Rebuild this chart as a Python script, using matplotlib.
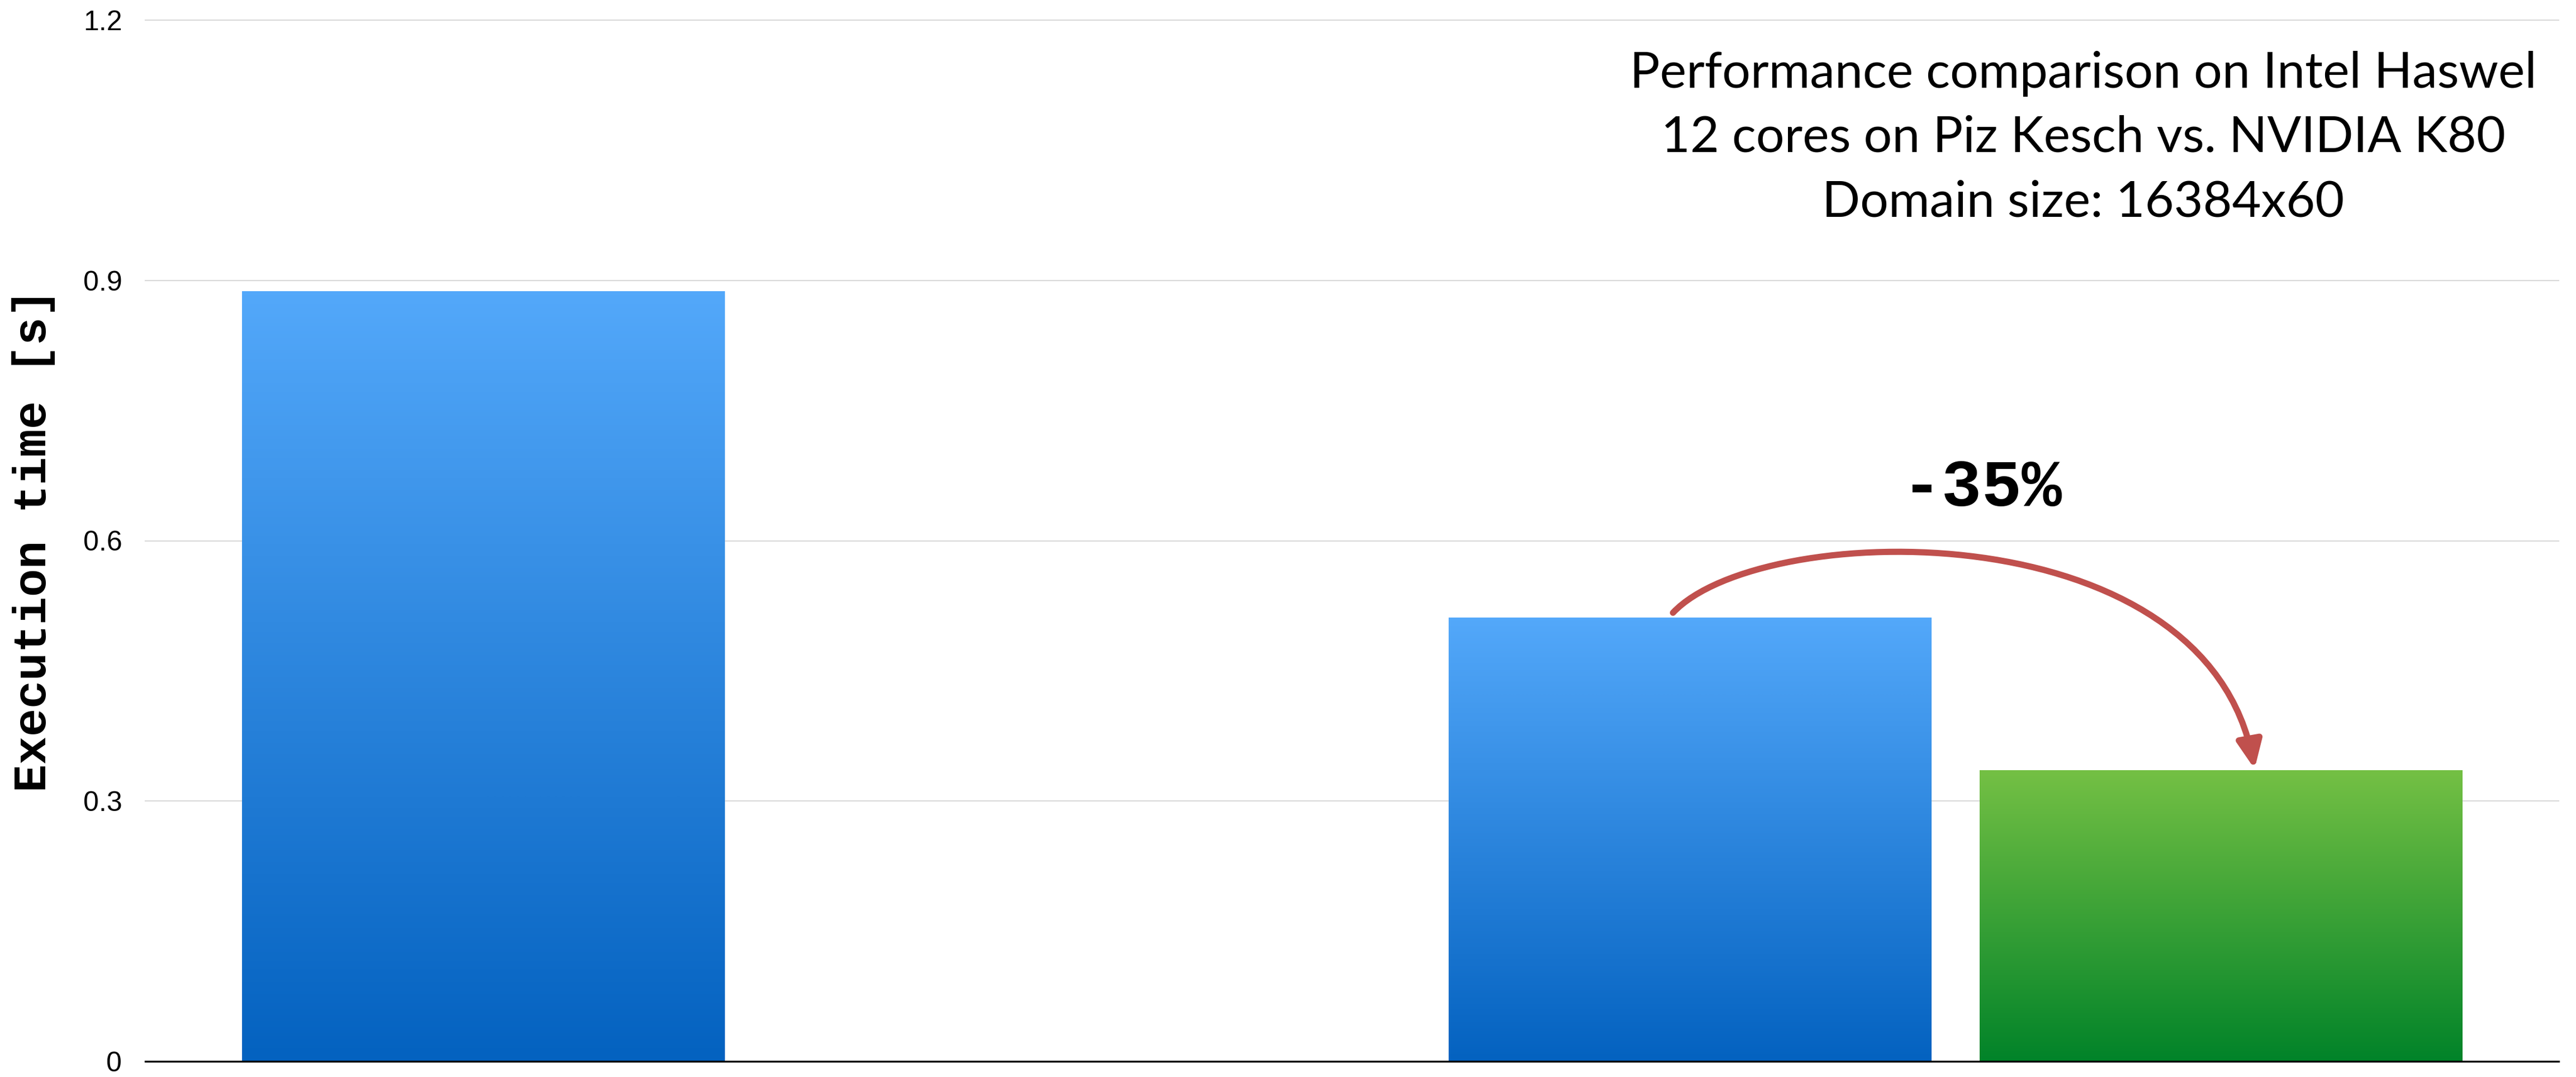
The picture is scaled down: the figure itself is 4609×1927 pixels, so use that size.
import numpy as np
import matplotlib
matplotlib.use("Agg")
import matplotlib.pyplot as plt
from matplotlib.patches import FancyArrowPatch
from matplotlib.path import Path
from matplotlib.colors import LinearSegmentedColormap

# ---- data ----
categories = ["", ""]
cpu_times = [0.887, 0.511]          # blue bars (Intel Haswell)
gpu_times = [np.nan, 0.335]          # green bars (NVIDIA K80)
yticks = [0, 0.3, 0.6, 0.9, 1.2]
ytick_labels = ["0", "0.3", "0.6", "0.9", "1.2"]
title_lines = ["Performance comparison on Intel Haswel",
               "12 cores on Piz Kesch vs. NVIDIA K80",
               "Domain size: 16384x60"]
reduction_label = "-35%"
ylabel = "Execution time [s]"

W, H = 4609, 1927
fig = plt.figure(figsize=(W / 100, H / 100), dpi=100)
fig.patch.set_facecolor("white")
ax = fig.add_axes([260 / W, 1 - 1899 / H, (4578 - 260) / W, (1899 - 36) / H])

x = np.arange(len(categories))
bw = 0.40
off = 0.22

blue_cmap = LinearSegmentedColormap.from_list("b", ["#0462C0", "#53A8FA"])
green_cmap = LinearSegmentedColormap.from_list("g", ["#018329", "#74C044"])
grad = np.linspace(0, 1, 256).reshape(-1, 1)

def grad_bars(xs, vals, cmap):
    bars = ax.bar(xs, vals, width=bw, color="none", edgecolor="none", zorder=3)
    for b, v in zip(bars, vals):
        if np.isnan(v):
            continue
        x0 = b.get_x()
        ax.imshow(grad, cmap=cmap, origin="lower", aspect="auto",
                  extent=(x0, x0 + b.get_width(), 0, v), zorder=3,
                  interpolation="bilinear")
    return bars

grad_bars(x - off, cpu_times, blue_cmap)
grad_bars(x + off, gpu_times, green_cmap)

ax.set_xlim(-0.5, 1.5)
ax.set_ylim(0, 1.2)
ax.set_yticks(yticks)
ax.set_yticklabels(ytick_labels, fontfamily="Liberation Sans", fontsize=36)
ax.set_xticks(x)
ax.set_xticklabels(categories)
ax.tick_params(axis="both", length=0)
ax.tick_params(axis="y", pad=30)
ax.yaxis.grid(True, color="#d9d9d9", linewidth=1.5, zorder=0)
ax.set_axisbelow(True)
for s in ["top", "left", "right"]:
    ax.spines[s].set_visible(False)
ax.spines["bottom"].set_linewidth(2.4)
ax.spines["bottom"].set_color("black")
ax.spines["bottom"].set_zorder(5)
for gl in ax.get_ygridlines():
    gl.set_clip_on(False)

# y label
fig.text(60 / W, 1 - 967 / H, ylabel, rotation=90, ha="center", va="center",
         fontfamily="Liberation Mono", fontweight="bold", fontsize=60)

# title block
fig.text(3727 / W, 1 - 247 / H, "\n".join(title_lines), ha="center", va="center",
         fontfamily=["Lato", "DejaVu Sans"], fontsize=64.5,
         linespacing=1.5)

# reduction label
ax.text(1.022, 0.660, reduction_label, ha="center", va="center",
        fontfamily="Liberation Mono", fontweight="bold", fontsize=86,
        transform=ax.transData)

# curved arrow from blue bar to green bar
sx, sy = 1 - off - 0.014, cpu_times[1] + 0.006
ex, ey = 1 + off + 0.028, gpu_times[1] + 0.002
verts = [(sx, sy), (sx + 0.073, sy + 0.108), (ex - 0.039, sy + 0.120), (ex, ey)]
codes = [Path.MOVETO, Path.CURVE4, Path.CURVE4, Path.CURVE4]
arrow = FancyArrowPatch(path=Path(verts, codes),
                        arrowstyle="-|>,head_length=1.0,head_width=0.45",
                        mutation_scale=30, color="#C0504D", linewidth=8,
                        zorder=6)
ax.add_patch(arrow)

fig.savefig("out.png", dpi=100, facecolor="white")
